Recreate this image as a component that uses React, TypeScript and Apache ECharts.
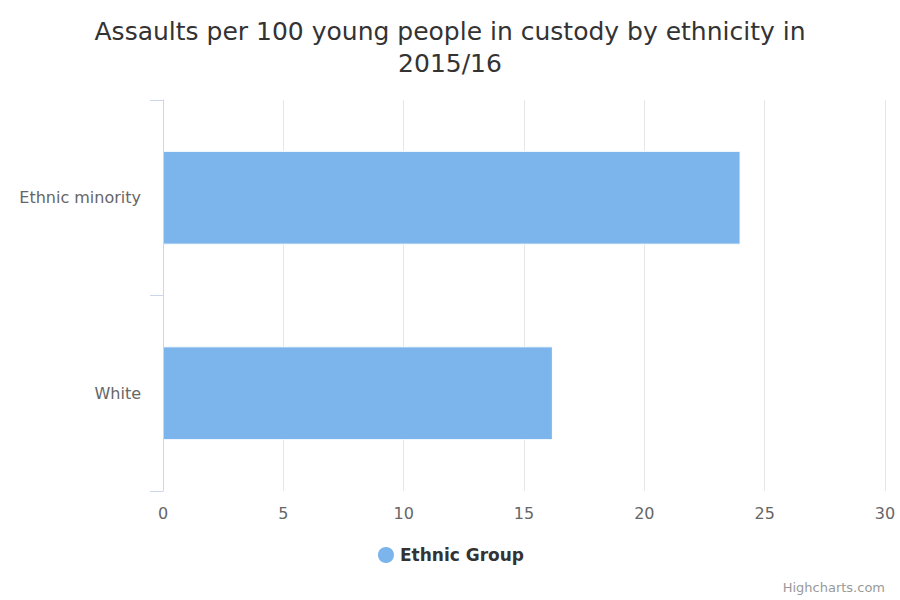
import React, { useEffect, useRef } from "react";
import * as echarts from "echarts";

const categories = ["White", "Ethnic minority"];
const values = [16.2, 24.0];
const seriesName = "Ethnic Group";

export default function App() {
  const ref = useRef<HTMLDivElement>(null);
  useEffect(() => {
    const chart = echarts.init(ref.current!, null, { renderer: "svg" });
    const font = "DejaVu Sans, sans-serif";
    chart.setOption({
      animation: false,
      textStyle: { fontFamily: font },
      title: {
        text: "Assaults per 100 young people in custody by ethnicity in\n2015/16",
        left: "center",
        top: 10,
        textStyle: { fontSize: 25, fontWeight: "normal", color: "#333", lineHeight: 32, fontFamily: font },
      },
      grid: { left: 163, right: 15, top: 100, bottom: 109 },
      xAxis: {
        type: "value", min: 0, max: 30, interval: 5,
        axisLine: { show: false }, axisTick: { show: false },
        splitLine: { lineStyle: { color: "#e6e6e6" } },
        axisLabel: { color: "#666", fontSize: 16, margin: 14, fontFamily: font },
      },
      yAxis: {
        type: "category", data: categories,
        axisLine: { show: true, onZero: false, lineStyle: { color: "#ccd6eb" } },
        axisTick: { show: true, length: 13, lineStyle: { color: "#ccd6eb" } },
        axisLabel: { color: "#666", fontSize: 16, margin: 22, fontFamily: font },
        z: 5,
      },
      legend: {
        bottom: 30, left: "center", icon: "circle", itemWidth: 18, itemHeight: 18,
        textStyle: { fontSize: 17, fontWeight: "bold", color: "#333", fontFamily: font },
      },
      graphic: [{
        type: "text", right: 15, bottom: 6,
        style: { text: "Highcharts.com", fill: "#999", fontSize: 13, fontFamily: font },
      }],
      series: [{
        type: "bar", name: seriesName, data: values, barWidth: "48%",
        itemStyle: { color: "#7cb5ec", borderColor: "#fff", borderWidth: 1 },
      }],
    });
    return () => chart.dispose();
  }, []);
  return <div ref={ref} style={{ position: "absolute", left: 0, top: 0, width: 900, height: 600 }} />;
}
